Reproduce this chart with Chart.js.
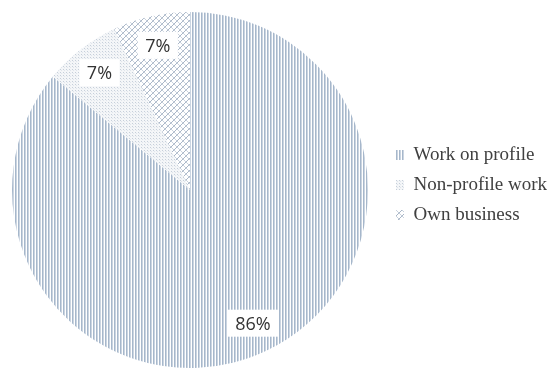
<!DOCTYPE html>
<html>
<head>
<meta charset="utf-8">
<script src="https://cdn.jsdelivr.net/npm/chart.js@4"></script>
<style>
  html, body { margin: 0; padding: 0; background: #fff; }
  #wrap { width: 550px; height: 370px; }
</style>
</head>
<body>
<div id="wrap"><canvas id="pieChart" width="550" height="370"></canvas></div>
<script>
// chart data
const categories = ['Work on profile', 'Non-profile work', 'Own business'];
const shares = [86, 7, 7];
const shareLabels = ['86%', '7%', '7%'];

// small tiles used as hatch fills
function makePattern(kind) {
    const c = document.createElement('canvas');
    const g = c.getContext('2d');
    if (kind === 'vertical') {
        c.width = 3; c.height = 3;
        g.fillStyle = '#ffffff'; g.fillRect(0, 0, 3, 3);
        g.fillStyle = '#a6b7cb'; g.fillRect(0, 0, 1, 3);
        g.fillStyle = '#cbd5e1'; g.fillRect(1, 0, 1, 3);
    } else if (kind === 'dots') {
        c.width = 3; c.height = 3;
        g.fillStyle = '#f4f6f8'; g.fillRect(0, 0, 3, 3);
        g.fillStyle = '#c6cfda'; g.fillRect(0, 0, 1, 1);
        g.fillStyle = '#e0e5ec'; g.fillRect(1, 1, 1, 1);
    } else {
        c.width = 6; c.height = 6;
        g.fillStyle = '#ffffff'; g.fillRect(0, 0, 6, 6);
        g.strokeStyle = '#a9b6c7'; g.lineWidth = 1;
        g.beginPath();
        g.moveTo(0, 6); g.lineTo(6, 0);
        g.moveTo(-1, 1); g.lineTo(1, -1);
        g.moveTo(5, 7); g.lineTo(7, 5);
        g.stroke();
        g.strokeStyle = '#c9d2dd';
        g.beginPath();
        g.moveTo(0, 0); g.lineTo(6, 6);
        g.stroke();
    }
    return g.createPattern(c, 'repeat');
}

const fills = [makePattern('vertical'), makePattern('dots'), makePattern('cross')];

// white boxed percentage labels inside slices
const boxLabels = {
    id: 'boxLabels',
    afterDatasetsDraw(chart) {
        const ctx = chart.ctx;
        const meta = chart.getDatasetMeta(0);
        ctx.save();
        ctx.font = '18px "Open Sans", sans-serif';
        ctx.textAlign = 'center';
        ctx.textBaseline = 'middle';
        meta.data.forEach((arc, i) => {
            const mid = (arc.startAngle + arc.endAngle) / 2;
            const r = arc.outerRadius * 0.83;
            const x = arc.x + Math.cos(mid) * r;
            const y = arc.y + Math.sin(mid) * r;
            const w = ctx.measureText(shareLabels[i]).width + 15;
            ctx.fillStyle = '#ffffff';
            ctx.fillRect(x - w / 2, y - 14, w, 27);
            ctx.fillStyle = '#333333';
            ctx.fillText(shareLabels[i], x, y + 1);
        });
        ctx.restore();
    }
};

// nudge the legend a bit right and up, closer to the canvas edge
const legendNudge = {
    id: 'legendNudge',
    afterLayout(chart) {
        const lg = chart.legend;
        lg.left += 12; lg.right += 12;
        lg.top -= 5; lg.bottom -= 5;
    }
};

new Chart(document.getElementById('pieChart'), {
    type: 'pie',
    data: {
        labels: categories,
        datasets: [{
            data: shares,
            backgroundColor: fills,
            borderWidth: 0
        }]
    },
    options: {
        responsive: false,
        animation: false,
        layout: { padding: { top: 12, bottom: 2, left: 7, right: 5 } },
        plugins: {
            tooltip: { enabled: false },
            legend: {
                position: 'right',
                labels: {
                    boxWidth: 8,
                    boxHeight: 10,
                    padding: 11,
                    color: '#404040',
                    font: { family: '"Liberation Serif", "Times New Roman", serif', size: 19 }
                }
            }
        }
    },
    plugins: [boxLabels, legendNudge]
});
</script>
</body>
</html>
